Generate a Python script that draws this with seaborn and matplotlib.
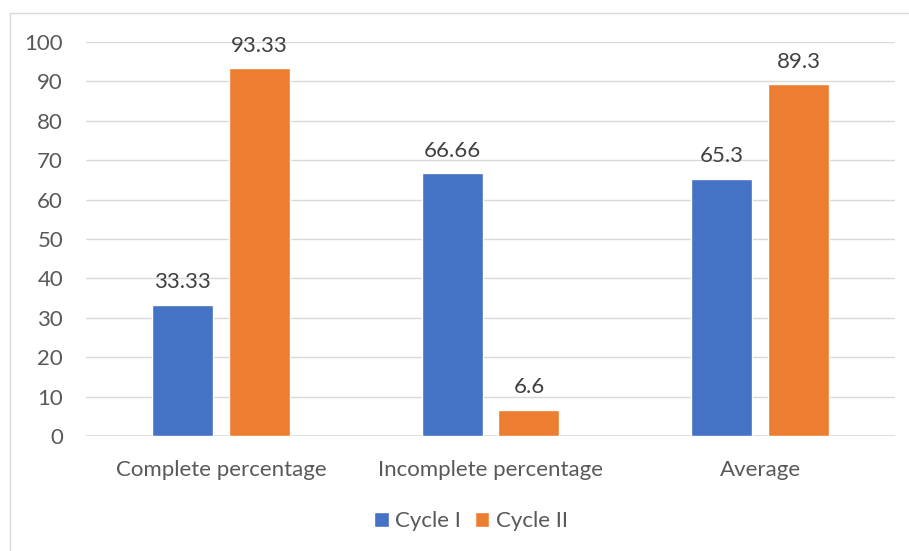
import matplotlib
matplotlib.use("Agg")
import matplotlib.pyplot as plt
import seaborn as sns
import pandas as pd
from matplotlib.patches import Rectangle

categories = ["Complete percentage", "Incomplete percentage", "Average"]
cycle1 = [33.33, 66.66, 65.3]
cycle2 = [93.33, 6.6, 89.3]
series_names = ["Cycle I", "Cycle II"]
label1 = ["33.33", "66.66", "65.3"]
label2 = ["93.33", "6.6", "89.3"]
yticks = [0, 10, 20, 30, 40, 50, 60, 70, 80, 90, 100]

df = pd.DataFrame({
    "Category": categories * 2,
    "Value": cycle1 + cycle2,
    "Series": [series_names[0]] * 3 + [series_names[1]] * 3,
})

sns.set_theme(style="white")
plt.rcParams["font.family"] = ["Lato", "DejaVu Sans"]
TXT = "#595959"
GRID = "#D9D9D9"
FS = 16

fig = plt.figure(figsize=(9.09, 5.51), dpi=100)
fig.patch.set_facecolor("white")
fig.patches.append(Rectangle((10 / 909, -0.5), 2.0, 1 - 13 / 551 + 0.5,
                             transform=fig.transFigure, fill=False,
                             edgecolor=GRID, linewidth=1.0, zorder=0))

ax = fig.add_axes([86 / 909, (551 - 436) / 551, 809 / 909, 394 / 551])
sns.barplot(data=df, x="Category", y="Value", hue="Series",
            palette=["#4472C4", "#ED7D31"], width=0.57, gap=0.207,
            saturation=1, ax=ax, legend=True, zorder=3)

ax.set_xlim(-0.5, 2.5)
ax.set_ylim(0, 100)
ax.set_yticks(yticks)
ax.set_yticklabels([str(t) for t in yticks], fontsize=FS, color=TXT)
ax.yaxis.grid(True, color=GRID, linewidth=1.0, zorder=0)
ax.set_axisbelow(True)
for s in ax.spines.values():
    s.set_visible(False)
ax.axhline(0, color=GRID, linewidth=1.2, zorder=2)
ax.tick_params(axis="y", length=0, pad=16.5)
ax.tick_params(axis="x", length=0, pad=17)
for lab in ax.get_xticklabels():
    lab.set_fontsize(FS)
    lab.set_color(TXT)
ax.set_xlabel("")
ax.set_ylabel("")

for cont, labs in zip(ax.containers, [label1, label2]):
    ax.bar_label(cont, labels=labs, padding=9, fontsize=FS, color="#404040")

leg = ax.legend(loc="center", bbox_to_anchor=(471 / 909, 1 - 521 / 551),
                bbox_transform=fig.transFigure, ncol=2, frameon=False,
                fontsize=FS, handlelength=0.65, handleheight=0.65,
                handletextpad=0.3, columnspacing=0.6)
for t in leg.get_texts():
    t.set_color(TXT)

fig.savefig("out.png", dpi=100, facecolor="white")
